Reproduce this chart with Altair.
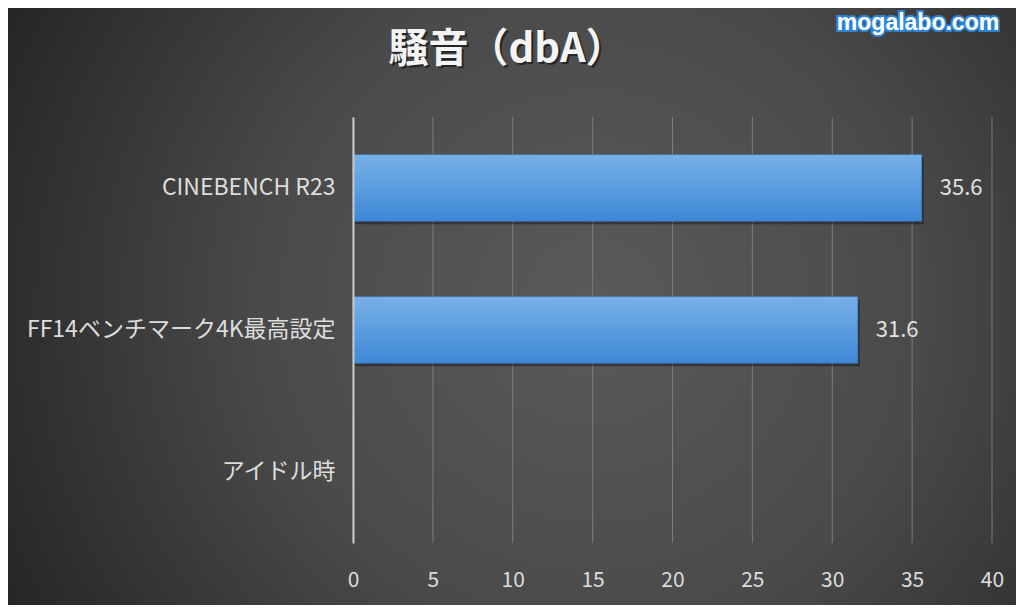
import altair as alt
import pandas as pd

# ---- data ----
categories = ["CINEBENCH R23", "FF14ベンチマーク4K最高設定", "アイドル時"]
values = [35.6, 31.6, None]
ticks = [0, 5, 10, 15, 20, 25, 30, 35, 40]
title_text = ["騒音（dbA）"]
watermark = ["mogalabo.com"]

df = pd.DataFrame({"cat": categories, "val": values})
tick_df = pd.DataFrame({"t": ticks})
title_df = pd.DataFrame({"txt": title_text})
wm_df = pd.DataFrame({"txt": watermark})

W, H = 639, 426
PL, PT = 345, 109
TOTAL_W, TOTAL_H = 1008, 597
FONT = "Noto Sans CJK JP"

x_scale = alt.Scale(domain=[0, 40], nice=False, zero=True)
y_scale = alt.Scale(domain=categories, paddingInner=0.53, paddingOuter=0.265)

xaxis = alt.Axis(values=ticks, grid=False, domain=False, ticks=False, title=None,
                 labelFontSize=21, labelColor="#dddddd", labelPadding=26,
                 labelFont=FONT, labelFlush=False, zindex=1)
yaxis = alt.Axis(domain=True, domainColor="#c8c8c8", domainWidth=2, ticks=False,
                 grid=False, title=None, labelFontSize=23, labelColor="#dddddd",
                 labelPadding=18, labelFont=FONT, labelLimit=400, zindex=1)

bg = alt.Chart(pd.DataFrame({"a": [0]})).mark_rect(
    fill={"gradient": "radial", "x1": 0.58, "y1": 0.5, "r1": 0,
          "x2": 0.58, "y2": 0.5, "r2": 0.72,
          "stops": [{"offset": 0, "color": "#5a5a5a"},
                    {"offset": 0.45, "color": "#4a4a4a"},
                    {"offset": 1, "color": "#1e1e1e"}]}
).encode(x=alt.value(-PL), x2=alt.value(TOTAL_W - PL),
         y=alt.value(-PT), y2=alt.value(TOTAL_H - PT))

grid = alt.Chart(tick_df).mark_rule(color="#7c7c7c", strokeWidth=1).encode(
    x=alt.X("t:Q", scale=x_scale, axis=xaxis)
)

shadow = alt.Chart(df).mark_bar(color="#000000", opacity=0.35, xOffset=2, yOffset=3).encode(
    x=alt.X("val:Q", scale=x_scale, axis=xaxis),
    y=alt.Y("cat:N", scale=y_scale, axis=yaxis, sort=categories),
)

bars = alt.Chart(df).mark_bar(
    fill={"gradient": "linear", "x1": 0, "y1": 0, "x2": 0, "y2": 1,
          "stops": [{"offset": 0, "color": "#78b0e8"},
                    {"offset": 0.5, "color": "#5a9ddf"},
                    {"offset": 1, "color": "#3c87d6"}]},
    stroke="#3a7cc4", strokeWidth=0.5,
).encode(
    x=alt.X("val:Q", scale=x_scale, axis=xaxis),
    y=alt.Y("cat:N", scale=y_scale, axis=yaxis, sort=categories),
)

labels = alt.Chart(df).mark_text(align="left", baseline="middle", dx=18,
                                 fontSize=22, color="#e0e0e0", font=FONT).encode(
    x=alt.X("val:Q", scale=x_scale, axis=xaxis),
    y=alt.Y("cat:N", scale=y_scale, axis=yaxis, sort=categories),
    text=alt.Text("val:Q", format=".1f"),
)

title_shadow = alt.Chart(title_df).mark_text(
    align="center", baseline="middle", fontSize=40, fontWeight="bold",
    font=FONT, color="#000000", opacity=0.5, dx=2, dy=2
).encode(x=alt.value(154), y=alt.value(-67), text="txt:N")

title = alt.Chart(title_df).mark_text(
    align="center", baseline="middle", fontSize=40, fontWeight="bold",
    font=FONT, color="#f4f4f4"
).encode(x=alt.value(154), y=alt.value(-67), text="txt:N")

wm_glow = alt.Chart(wm_df).mark_text(
    align="center", baseline="middle", fontSize=23, fontWeight="bold",
    font="Liberation Sans", color="#ffffff", stroke="#2a8ee8", strokeWidth=4,
    strokeOpacity=0.9
).encode(x=alt.value(565), y=alt.value(-94), text="txt:N")

wm = alt.Chart(wm_df).mark_text(
    align="center", baseline="middle", fontSize=23, fontWeight="bold",
    font="Liberation Sans", color="#ffffff"
).encode(x=alt.value(565), y=alt.value(-94), text="txt:N")

chart = alt.layer(bg, grid, shadow, bars, labels, title_shadow, title, wm_glow, wm).properties(
    width=W, height=H,
    padding={"left": PL, "top": PT, "right": TOTAL_W - PL - W, "bottom": TOTAL_H - PT - H},
    autosize="none",
).configure(background="#2a2a2a").configure_view(stroke=None)

chart.save("out.html", embed_options={"renderer": "svg", "actions": False})
